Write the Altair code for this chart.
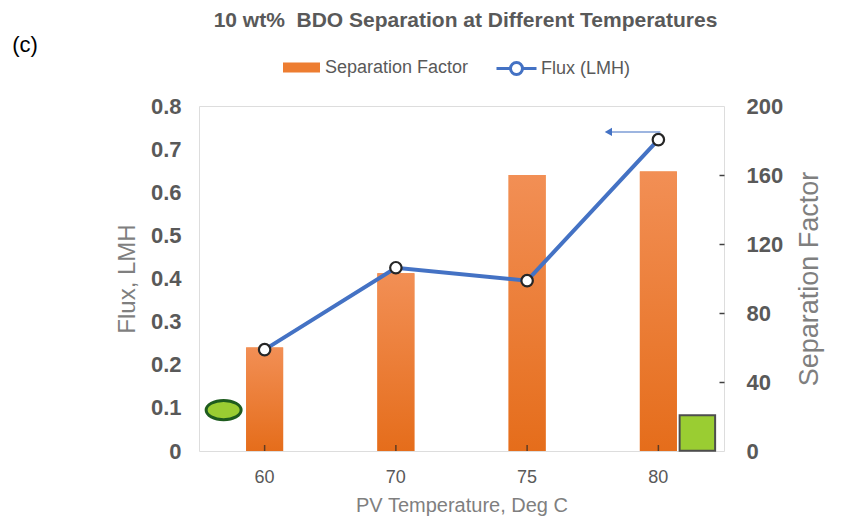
import altair as alt
import pandas as pd

# ---- data ----
temps = ["60", "70", "75", "80"]
sep_factor = [60, 103, 160, 162]
flux = [0.235, 0.425, 0.395, 0.722]

# annotation marks drawn on the figure (category, flux level)
ellipse_temp = ["60"]
ellipse_flux = [0.095]
square_temp = ["80"]
square_flux = [0.042]
arrow_temp = ["80"]
arrow_flux = [0.74]

left_ticks = [0, 0.1, 0.2, 0.3, 0.4, 0.5, 0.6, 0.7, 0.8]
right_ticks = [0, 40, 80, 120, 160, 200]
right_inner_ticks = [40, 80, 120, 160]

FONT = "Liberation Sans"
GRAY = "#595959"
LGRAY = "#7F7F7F"
BLUE = "#4472C4"
ORANGE = "#ED7D31"

df = pd.DataFrame({"temp": temps, "sf": sep_factor, "flux": flux,
                   "s1": ["Separation Factor"] * 4, "s2": ["Flux (LMH)"] * 4})
ell = pd.DataFrame({"temp": ellipse_temp, "flux": ellipse_flux})
sq = pd.DataFrame({"temp": square_temp, "flux": square_flux})
arr = pd.DataFrame({"temp": arrow_temp, "flux": arrow_flux})
lab = pd.DataFrame({"t": ["(c)"]})

xscale = alt.Scale(type="band", domain=temps, paddingInner=0.718, paddingOuter=0.359)
xaxis = alt.Axis(title="PV Temperature, Deg C", labelAngle=0, ticks=False, domain=False,
                 labelFont=FONT, labelFontSize=18, labelColor=GRAY, labelPadding=17,
                 titleFont=FONT, titleFontSize=20, titleFontWeight="normal", titleColor=LGRAY,
                 titlePadding=9)
X = alt.X("temp:N", scale=xscale, axis=xaxis, sort=temps)

yflux_scale = alt.Scale(domain=[0, 0.8], nice=False, zero=True)
yflux_axis = alt.Axis(orient="left", values=left_ticks, format=".1~f", title="Flux, LMH",
                      grid=False, ticks=False, domain=False,
                      labelFont=FONT, labelFontSize=22, labelFontWeight="bold", labelColor=GRAY,
                      labelPadding=18, titleFont=FONT, titleFontSize=24, titleFontWeight="normal",
                      titleColor=LGRAY, titlePadding=11)
YF = alt.Y("flux:Q", scale=yflux_scale, axis=yflux_axis)

sf_scale = alt.Scale(domain=[0, 200], nice=False)
ysf = alt.Y("sf:Q", scale=sf_scale,
            axis=alt.Axis(orient="right", values=right_ticks, title="Separation Factor",
                          grid=False, ticks=False, domain=False,
                          labelFont=FONT, labelFontSize=22, labelFontWeight="bold", labelColor=GRAY,
                          labelPadding=22, titleFont=FONT, titleFontSize=27,
                          titleFontWeight="normal", titleColor=LGRAY, titlePadding=14,
                          titleAngle=270, titleBaseline="top"))
# inward tick marks along the right edge
ysf_in = alt.Y("sf:Q", scale=sf_scale,
               axis=alt.Axis(orient="left", offset=-525, values=right_inner_ticks, labels=False,
                             title=None, grid=False, domain=False, ticks=True, tickSize=5,
                             tickWidth=1.5, tickColor="#404040"))

grad = alt.Gradient(gradient="linear", x1=0, x2=0, y1=0, y2=1,
                    stops=[alt.GradientStop(color="#F28F55", offset=0),
                           alt.GradientStop(color="#E56D1B", offset=1)])

bars_base = alt.Chart(df).mark_bar().encode(
    x=X, y=ysf,
    fill=alt.Fill("s1:N", scale=alt.Scale(domain=["Separation Factor"], range=[ORANGE]),
                  legend=alt.Legend(orient="none", legendX=84, legendY=-57, title=None,
                                    symbolType="M-1,-0.27L1,-0.27L1,0.27L-1,0.27Z",
                                    symbolSize=1369, symbolStrokeWidth=0,
                                    labelFont=FONT, labelFontSize=18, labelColor=GRAY,
                                    labelOffset=5))
)
bars_grad = alt.Chart(df).mark_bar(color=grad).encode(x=X, y=ysf_in)
bars = alt.layer(bars_base, bars_grad)

# small inward ticks on the bottom edge at each category
xticks = alt.Chart(df).transform_calculate(zero="0").mark_tick(
    orient="vertical", size=6, thickness=1.5, color="#262626", yOffset=-3
).encode(x=X, y=alt.Y("zero:Q", scale=yflux_scale, axis=yflux_axis))

line = alt.Chart(df).mark_line(strokeWidth=4).encode(
    x=X, y=YF,
    stroke=alt.Stroke("s2:N", scale=alt.Scale(domain=["Flux (LMH)"], range=[BLUE]),
                      legend=alt.Legend(orient="none", legendX=296, legendY=-59, title=None,
                                        symbolType="M-1,0L-0.3,0M0.3,0L1,0M-0.3,0A0.3,0.3,0,1,1,0.3,0A0.3,0.3,0,1,1,-0.3,0",
                                        symbolSize=1600, symbolStrokeWidth=3,
                                        labelFont=FONT, labelFontSize=18, labelColor=GRAY,
                                        labelOffset=3))
)
pts = alt.Chart(df).mark_point(filled=True, fill="white", stroke="#262626", strokeWidth=2.2,
                               size=130, opacity=1).encode(x=X, y=YF)

ellipse = alt.Chart(ell).mark_point(
    shape="M-1,0A1,0.55,0,1,0,1,0A1,0.55,0,1,0,-1,0Z", size=1225, filled=True,
    fill="#9ACD32", stroke="#1E5C1E", strokeWidth=3, opacity=1, xOffset=-41
).encode(x=X, y=YF)
square = alt.Chart(sq).mark_point(
    shape="square", size=1260, filled=True, fill="#9ACD32", stroke="#4D4D4D",
    strokeWidth=2, opacity=1, xOffset=39
).encode(x=X, y=YF)
shaft = alt.Chart(arr).mark_tick(color=BLUE, size=52, thickness=1.5, xOffset=-24,
                                 orient="horizontal").encode(x=X, y=YF)
head = alt.Chart(arr).mark_point(shape="triangle-left", size=70, filled=True, color=BLUE,
                                 opacity=1, xOffset=-50).encode(x=X, y=YF)
clabel = alt.Chart(lab).mark_text(font=FONT, fontSize=22, color="black", align="center",
                                  baseline="middle").encode(
    text="t:N", x=alt.value(-174), y=alt.value(-61))

flux_layer = alt.layer(xticks, line, pts, ellipse, square, shaft, head, clabel)

chart = alt.layer(bars, flux_layer).resolve_scale(
    y="independent", fill="independent", stroke="independent"
).properties(
    width=525, height=345,
    title=alt.Title("10 wt%\u00a0 BDO Separation at Different Temperatures", font=FONT,
                    fontSize=21, fontWeight="bold", color=GRAY, anchor="middle", offset=3, dx=4),
    autosize=alt.AutoSizeParams(type="none"),
    padding={"left": 199, "top": 106, "right": 119, "bottom": 66},
).configure_view(stroke="#595959", strokeWidth=1.5).configure(background="white")

chart.save("out.html", embed_options={"renderer": "svg", "actions": False})
